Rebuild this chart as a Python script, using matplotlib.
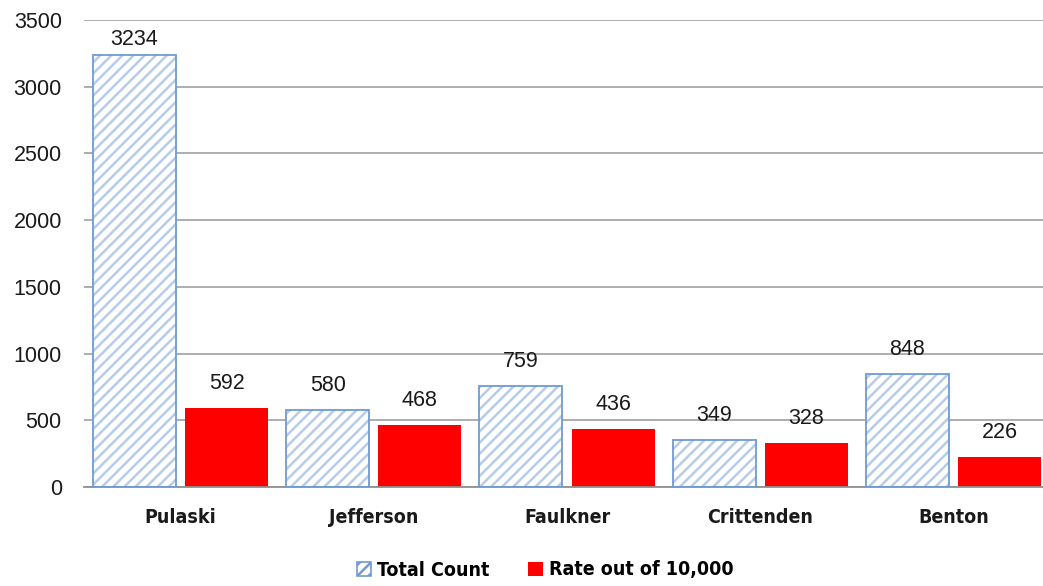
import numpy as np
import matplotlib
matplotlib.use("Agg")
import matplotlib.pyplot as plt
from matplotlib.patches import Patch

counties = ["Pulaski", "Jefferson", "Faulkner", "Crittenden", "Benton"]
total_count = [3234, 580, 759, 349, 848]
rate_per_10k = [592, 468, 436, 328, 226]

plt.rcParams['hatch.linewidth'] = 1.8
narrow = dict(family=['Liberation Sans Narrow', 'DejaVu Sans'],
              stretch='condensed', weight='bold')

fig = plt.figure(figsize=(10.43, 5.86), dpi=100)
ax = fig.add_axes([84 / 1043, 1 - 487 / 586, 966 / 1043, 467 / 586])

x = np.arange(len(counties))
w = 0.43
off = 0.2385

# hatched fill and outline drawn separately so the stripes stay lighter
ax.bar(x - off, total_count, w, color='white', edgecolor='#b7cce9',
       hatch='///', linewidth=0, zorder=2)
ax.bar(x - off, total_count, w, fill=False, edgecolor='#6f9ad3',
       linewidth=1.3, zorder=3)
ax.bar(x + off, rate_per_10k, w, color='#ff0000', linewidth=0, zorder=2)

def label_y(v):
    # keep the tallest label inside the plot area
    return min(v + 105, 3275)

for xi, v in zip(x, total_count):
    ax.text(xi - off, label_y(v), str(v), ha='center', va='bottom',
            fontsize=15.5, family='Liberation Sans', color='#1a1a1a')
for xi, v in zip(x, rate_per_10k):
    ax.text(xi + off, label_y(v), str(v), ha='center', va='bottom',
            fontsize=15.5, family='Liberation Sans', color='#1a1a1a')

ax.set_xlim(-0.5, 4.5)
ax.set_ylim(0, 3500)
ax.set_yticks(range(0, 3501, 500))
ax.yaxis.grid(True, color='#a0a0a0', linewidth=1.2, zorder=0)
ax.set_axisbelow(True)
for s in ['left', 'right', 'top']:
    ax.spines[s].set_visible(False)
ax.spines['bottom'].set_color('#909090')
ax.spines['bottom'].set_linewidth(1.3)
ax.tick_params(axis='y', length=0, pad=16, labelsize=15.5)
ax.tick_params(axis='x', length=0, pad=15)
for t in ax.get_yticklabels():
    t.set_family('Liberation Sans')
    t.set_color('#1a1a1a')
ax.set_xticks(x)
ax.set_xticklabels(counties, fontsize=14, color='#1a1a1a', **narrow)

handles = [Patch(facecolor='white', edgecolor='#6f9ad3', hatch='///',
                 linewidth=1.2, label='Total Count'),
           Patch(facecolor='#ff0000', label='Rate out of 10,000')]
fig.legend(handles=handles, loc='center', bbox_to_anchor=(545 / 1043, 1 - 570 / 586),
           ncol=2, frameon=False, handlelength=0.75, handleheight=0.75,
           handletextpad=0.3, columnspacing=2.0,
           prop=dict(size=14, **narrow))

fig.savefig("out.png", dpi=100)
